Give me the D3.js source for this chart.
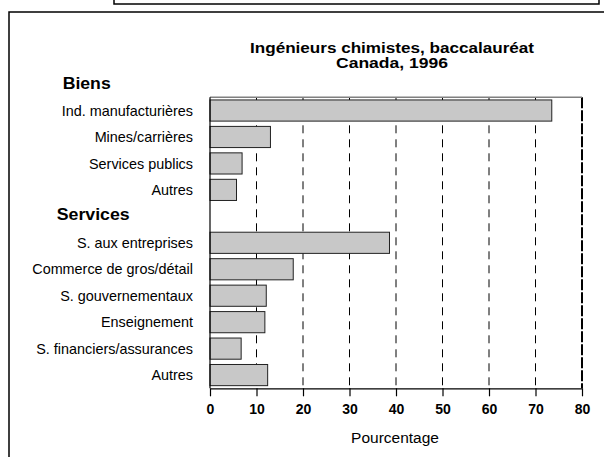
<!DOCTYPE html>
<html>
<head>
<meta charset="utf-8">
<script src="https://cdn.jsdelivr.net/npm/d3@7"></script>
<style>
  html, body { margin: 0; padding: 0; background: #fff; }
  svg { display: block; font-family: "Liberation Sans", Arial, sans-serif; }
</style>
</head>
<body>
<svg id="chart" width="604" height="457"></svg>
<script>
// ---- data ----
const titleLines = ["Ingénieurs chimistes, baccalauréat", "Canada, 1996"];
const groupNames = ["Biens", "Services"];
const goodsCategories = ["Ind. manufacturières", "Mines/carrières", "Services publics", "Autres"];
const goodsValues = [73.5, 13.0, 6.9, 5.7];
const servicesCategories = ["S. aux entreprises", "Commerce de gros/détail", "S. gouvernementaux", "Enseignement", "S. financiers/assurances", "Autres"];
const servicesValues = [38.6, 17.9, 12.1, 11.8, 6.7, 12.4];
const xTicks = [0, 10, 20, 30, 40, 50, 60, 70, 80];
const xLabel = "Pourcentage";

// ---- build rows ----
const rows = [];
goodsCategories.forEach((c, i) => rows.push({ id: "g" + i, label: c, value: goodsValues[i] }));
rows.push({ id: "spacer", label: null, value: null });
servicesCategories.forEach((c, i) => rows.push({ id: "s" + i, label: c, value: servicesValues[i] }));

const svg = d3.select("#chart");

// frames
svg.append("rect").attr("x", 114).attr("y", -10).attr("width", 485).attr("height", 14)
  .attr("fill", "none").attr("stroke", "#000").attr("stroke-width", 1.5);
svg.append("rect").attr("x", 9).attr("y", 12).attr("width", 620).attr("height", 460)
  .attr("fill", "none").attr("stroke", "#000").attr("stroke-width", 1.5);

const x = d3.scaleLinear().domain([0, 80]).range([210, 582]);
const y = d3.scaleBand().domain(rows.map(d => d.id)).range([97.3, 388.3])
  .paddingInner(0.2).paddingOuter(0.1);

// title
const titleWidths = [284, 112];
svg.append("g").selectAll("text").data(titleLines).join("text")
  .attr("x", 392).attr("y", (d, i) => 52.5 + i * 15.5)
  .attr("text-anchor", "middle").attr("font-weight", "bold").attr("font-size", 14)
  .attr("textLength", (d, i) => titleWidths[i]).attr("lengthAdjust", "spacingAndGlyphs")
  .text(d => d);

// gridlines
svg.append("g").selectAll("line").data(xTicks.filter(t => t > 0 && t < 80)).join("line")
  .attr("x1", d => x(d)).attr("x2", d => x(d))
  .attr("y1", 97.3).attr("y2", 388.3)
  .attr("stroke", "#000").attr("stroke-width", 1).attr("stroke-dasharray", "8,6");

// right border (80)
svg.append("line").attr("x1", x(80)).attr("x2", x(80)).attr("y1", 97.3).attr("y2", 388.3)
  .attr("stroke", "#000").attr("stroke-width", 2).attr("stroke-dasharray", "11,2");

// top line
svg.append("line").attr("x1", x(0)).attr("x2", x(80)).attr("y1", 97.3).attr("y2", 97.3)
  .attr("stroke", "#808080").attr("stroke-width", 1.5);

// bars
const barRows = rows.filter(d => d.value !== null);
svg.append("g").selectAll("rect").data(barRows).join("rect")
  .attr("x", x(0)).attr("y", d => y(d.id))
  .attr("width", d => x(d.value) - x(0)).attr("height", y.bandwidth())
  .attr("fill", "#c8c8c8").attr("stroke", "#222").attr("stroke-width", 1);

// category labels
svg.append("g").selectAll("text").data(barRows).join("text")
  .attr("x", 193).attr("y", d => y(d.id) + y.bandwidth() / 2)
  .attr("dy", "0.36em").attr("text-anchor", "end").attr("font-size", 14.4)
  .text(d => d.label);

// group headers
svg.append("text").attr("x", 62.7).attr("y", y("g0") - 10.6)
  .attr("font-weight", "bold").attr("font-size", 16)
  .attr("textLength", 48).attr("lengthAdjust", "spacingAndGlyphs").text(groupNames[0]);
svg.append("text").attr("x", 56.7).attr("y", y("spacer") + y.bandwidth() / 2 + 4)
  .attr("font-weight", "bold").attr("font-size", 16.5)
  .attr("textLength", 73).attr("lengthAdjust", "spacingAndGlyphs").text(groupNames[1]);

// left axis line
svg.append("line").attr("x1", x(0)).attr("x2", x(0)).attr("y1", 97.3).attr("y2", 388.3)
  .attr("stroke", "#000").attr("stroke-width", 1.2);

// bottom axis
const axis = d3.axisBottom(x).tickValues(xTicks).tickSize(8).tickPadding(8).tickSizeOuter(0);
const ag = svg.append("g").attr("transform", "translate(0,388.3)").call(axis);
ag.select(".domain").attr("stroke", "#000").attr("stroke-width", 1.2);
ag.selectAll(".tick line").attr("stroke", "#000").attr("stroke-width", 1.2);
ag.selectAll(".tick text").attr("font-family", "Liberation Sans, Arial, sans-serif")
  .attr("font-size", 14).attr("font-weight", "bold").attr("fill", "#000");

svg.append("text").attr("x", 395).attr("y", 443).attr("text-anchor", "middle")
  .attr("font-size", 15.5).text(xLabel);
</script>
</body>
</html>
